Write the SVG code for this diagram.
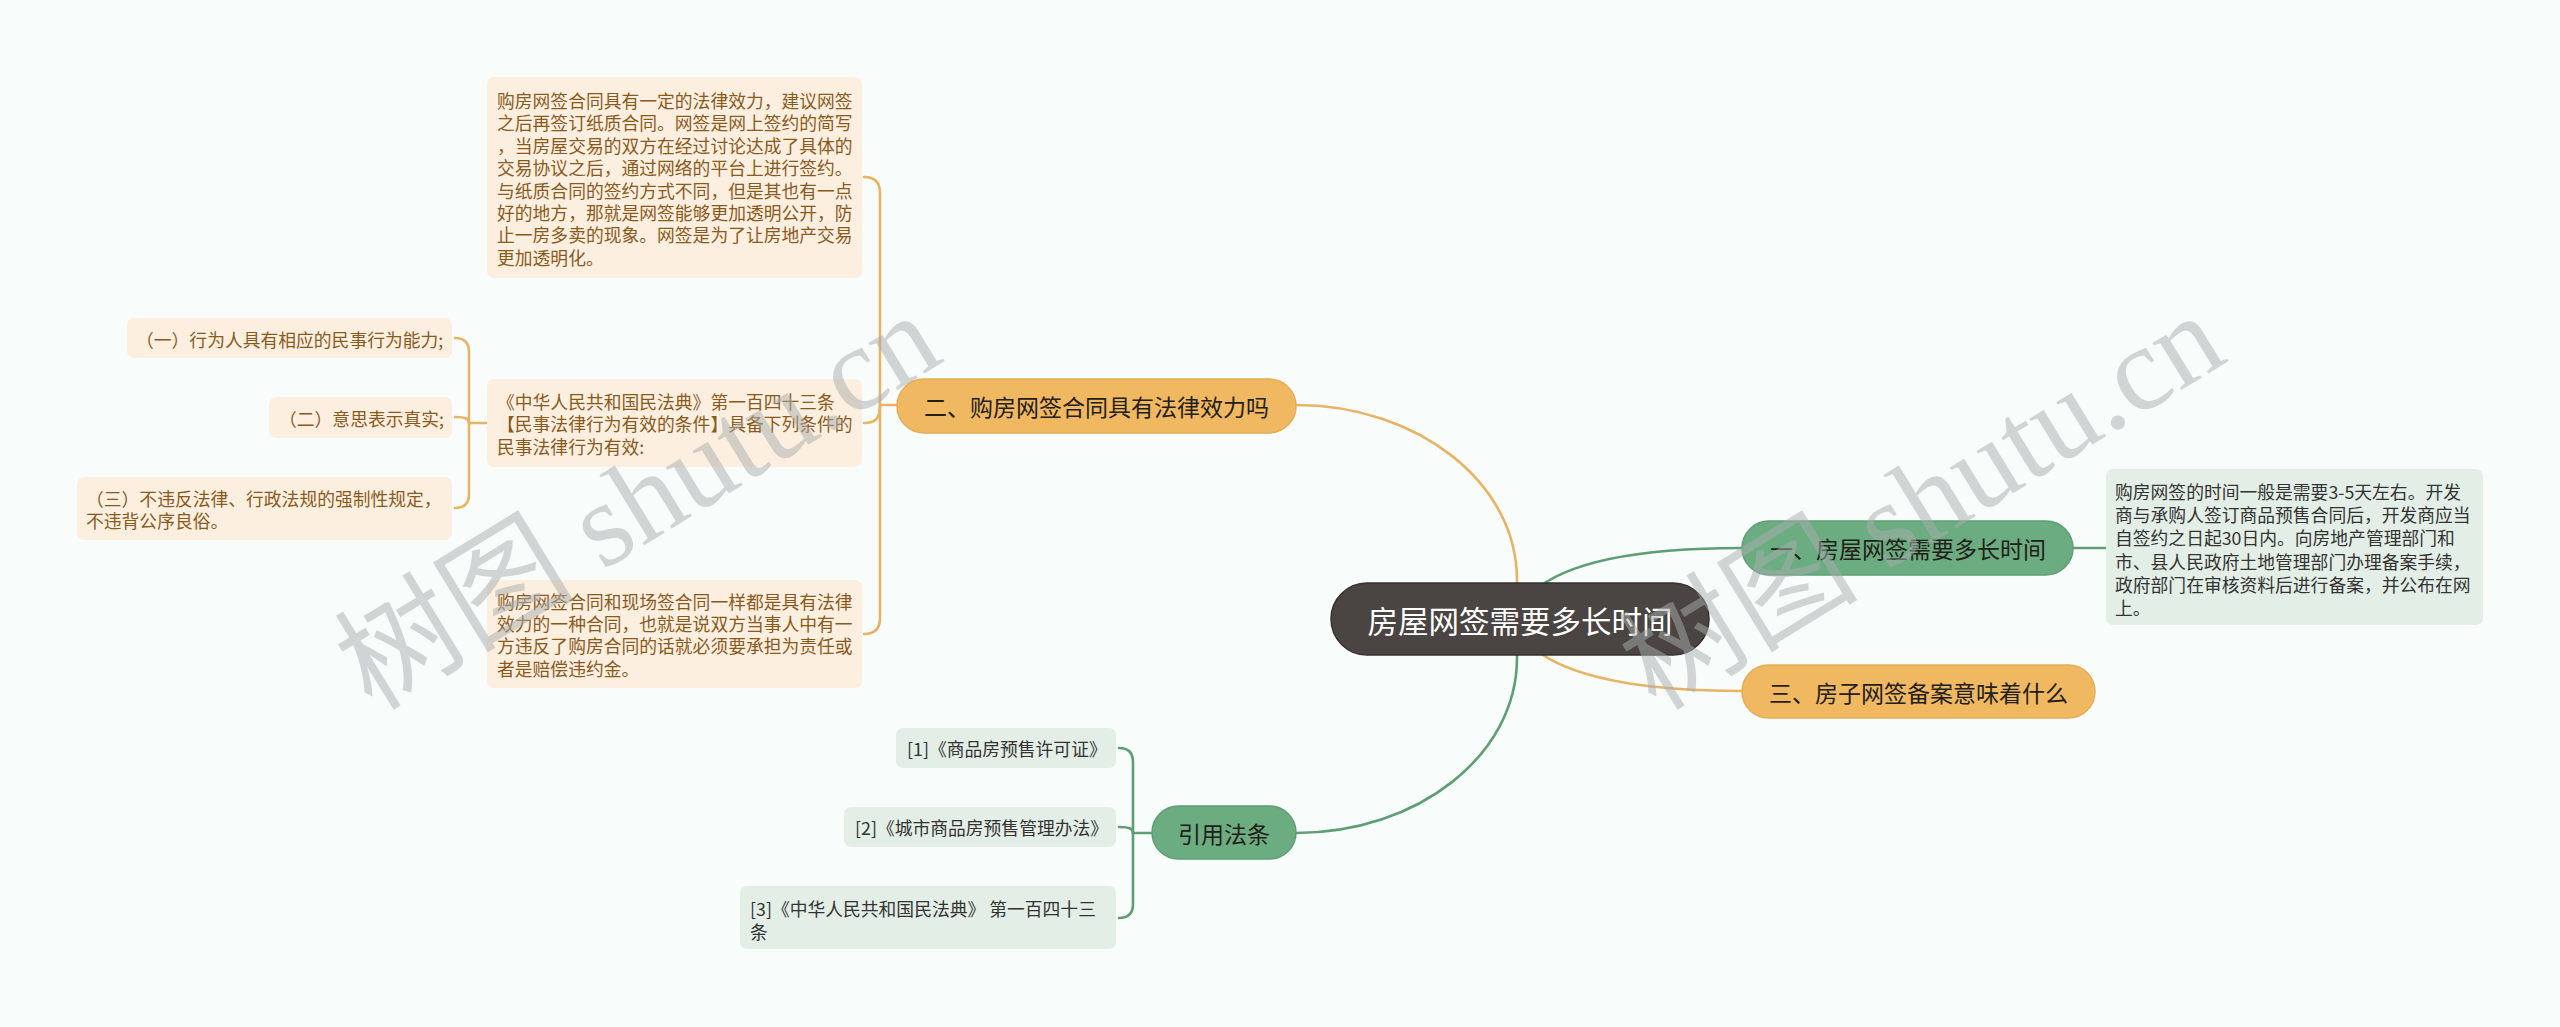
<svg xmlns="http://www.w3.org/2000/svg" width="2560" height="1027" viewBox="0 0 2560 1027">
<style>
.cjk{font-family:"Noto Sans CJK SC","Noto Sans",sans-serif}
.ot{font-size:17.8px;fill:#8a5a1c}
.gt{font-size:17.8px;fill:#333333}
.ob{fill:#fcefe0}
.gb{fill:#e3eee6}
.on{fill:#f1b862;stroke:#e6ac55;stroke-width:1.5}
.gn{fill:#6cac81;stroke:#5f9f74;stroke-width:1.5}
.nt{font-size:23px;fill:#222018;text-anchor:middle}
.co{fill:none;stroke:#e8b464;stroke-width:2.6;stroke-linecap:round}
.cg{fill:none;stroke:#5e9e74;stroke-width:2.6;stroke-linecap:round}
.wm{font-family:"Liberation Serif","Noto Sans CJK SC",serif;font-size:120px;fill:#a9aeae;opacity:0.5}
</style>
<rect x="0" y="0" width="2560" height="1027" fill="#f8fcfb"/>
<g id="connectors">
<path class="co" d="M1296,405 C1418,405 1517,483 1517,580 L1517,600"/>
<path class="cg" d="M1296,833 C1418,833 1517,755 1517,658 L1517,640"/>
<path class="cg" d="M1533,592 C1566,562 1640,548 1742,548"/>
<path class="co" d="M1533,648 C1570,678 1640,691 1742,691"/>
<path class="cg" d="M2073,548 H2106"/>
<path class="co" d="M897,405 H880"/>
<path class="co" d="M880,405 V193 Q880,177 864,177"/>
<path class="co" d="M880,405 C880,418 876,423 864,423"/>
<path class="co" d="M880,405 V618 Q880,634 864,634"/>
<path class="co" d="M487,423 H469"/>
<path class="co" d="M469,423 V352 Q469,338 455,338"/>
<path class="co" d="M469,423 C469,419 466,417 455,417"/>
<path class="co" d="M469,423 V494 Q469,508 455,508"/>
<path class="cg" d="M1152,833 H1133"/>
<path class="cg" d="M1133,833 V762 Q1133,748 1119,748"/>
<path class="cg" d="M1133,833 C1133,829 1130,827 1119,827"/>
<path class="cg" d="M1133,833 V904 Q1133,918 1119,918"/>
</g>
<g id="root">
<rect x="1331" y="583" width="378" height="72" rx="36" fill="#4a4442" stroke="#36302f" stroke-width="1.5"/>
<text class="cjk" x="1520" y="620" font-size="30.5px" fill="#ffffff" text-anchor="middle" dominant-baseline="central">房屋网签需要多长时间</text>
</g>
<g id="n1">
<rect class="gn" x="1742" y="521" width="331" height="54" rx="27"/>
<text class="cjk nt" x="1908" y="548" dominant-baseline="central">一、房屋网签需要多长时间</text>
</g>
<g id="n1-detail">
<rect class="gb" x="2106" y="469" width="377" height="156" rx="7"/>
<text class="cjk gt" dominant-baseline="central">
<tspan x="2115" y="491">购房网签的时间一般是需要3-5天左右。开发</tspan>
<tspan x="2115" y="514.2">商与承购人签订商品预售合同后，开发商应当</tspan>
<tspan x="2115" y="537.4">自签约之日起30日内。向房地产管理部门和</tspan>
<tspan x="2115" y="560.6">市、县人民政府土地管理部门办理备案手续，</tspan>
<tspan x="2115" y="583.8">政府部门在审核资料后进行备案，并公布在网</tspan>
<tspan x="2115" y="607">上。</tspan>
</text>
</g>
<g id="n3">
<rect class="on" x="1742" y="665" width="353" height="53" rx="26.5"/>
<text class="cjk nt" x="1918.5" y="691.5" dominant-baseline="central">三、房子网签备案意味着什么</text>
</g>
<g id="n2">
<rect class="on" x="897" y="379" width="399" height="54" rx="27"/>
<text class="cjk nt" x="1096.5" y="406" dominant-baseline="central">二、购房网签合同具有法律效力吗</text>
</g>
<g id="n2-a">
<rect class="ob" x="487" y="77" width="375" height="201" rx="7"/>
<text class="cjk ot" dominant-baseline="central">
<tspan x="497" y="100">购房网签合同具有一定的法律效力，建议网签</tspan>
<tspan x="497" y="122.4">之后再签订纸质合同。网签是网上签约的简写</tspan>
<tspan x="497" y="144.8">，当房屋交易的双方在经过讨论达成了具体的</tspan>
<tspan x="497" y="167.2">交易协议之后，通过网络的平台上进行签约。</tspan>
<tspan x="497" y="189.6">与纸质合同的签约方式不同，但是其也有一点</tspan>
<tspan x="497" y="212">好的地方，那就是网签能够更加透明公开，防</tspan>
<tspan x="497" y="234.4">止一房多卖的现象。网签是为了让房地产交易</tspan>
<tspan x="497" y="256.8">更加透明化。</tspan>
</text>
</g>
<g id="n2-b">
<rect class="ob" x="487" y="379" width="375" height="88" rx="7"/>
<text class="cjk ot" dominant-baseline="central">
<tspan x="497" y="401">《中华人民共和国民法典》第一百四十三条</tspan>
<tspan x="497" y="423.4">【民事法律行为有效的条件】具备下列条件的</tspan>
<tspan x="497" y="445.8">民事法律行为有效:</tspan>
</text>
</g>
<g id="n2-b1">
<rect class="ob" x="127" y="318" width="325" height="40" rx="7"/>
<text class="cjk ot" x="136" y="338.5" dominant-baseline="central">（一）行为人具有相应的民事行为能力;</text>
</g>
<g id="n2-b2">
<rect class="ob" x="269" y="397" width="183" height="41" rx="7"/>
<text class="cjk ot" x="279" y="417.5" dominant-baseline="central">（二）意思表示真实;</text>
</g>
<g id="n2-b3">
<rect class="ob" x="77" y="477" width="375" height="63" rx="7"/>
<text class="cjk ot" dominant-baseline="central">
<tspan x="86" y="497.5">（三）不违反法律、行政法规的强制性规定，</tspan>
<tspan x="86" y="519.9">不违背公序良俗。</tspan>
</text>
</g>
<g id="n2-c">
<rect class="ob" x="487" y="580" width="375" height="108" rx="7"/>
<text class="cjk ot" dominant-baseline="central">
<tspan x="497" y="600.5">购房网签合同和现场签合同一样都是具有法律</tspan>
<tspan x="497" y="622.9">效力的一种合同，也就是说双方当事人中有一</tspan>
<tspan x="497" y="645.3">方违反了购房合同的话就必须要承担为责任或</tspan>
<tspan x="497" y="667.7">者是赔偿违约金。</tspan>
</text>
</g>
<g id="cite">
<rect class="gn" x="1152" y="806" width="144" height="53" rx="26.5"/>
<text class="cjk nt" x="1224" y="833" dominant-baseline="central">引用法条</text>
</g>
<g id="cite-1">
<rect class="gb" x="896" y="728" width="220" height="40" rx="7"/>
<text class="cjk gt" x="907" y="748" dominant-baseline="central">[1]《商品房预售许可证》</text>
</g>
<g id="cite-2">
<rect class="gb" x="844" y="807" width="272" height="40" rx="7"/>
<text class="cjk gt" x="855" y="827" dominant-baseline="central">[2]《城市商品房预售管理办法》</text>
</g>
<g id="cite-3">
<rect class="gb" x="740" y="886" width="376" height="63" rx="7"/>
<text class="cjk gt" dominant-baseline="central">
<tspan x="750" y="908">[3]《中华人民共和国民法典》 第一百四十三</tspan>
<tspan x="750" y="930.5">条</tspan>
</text>
</g>
<g id="watermark">
<text class="wm" transform="translate(372,712) rotate(-31.5)">树图 shutu.cn</text>
<text class="wm" transform="translate(1656,712) rotate(-31.5)">树图 shutu.cn</text>
</g>
</svg>
